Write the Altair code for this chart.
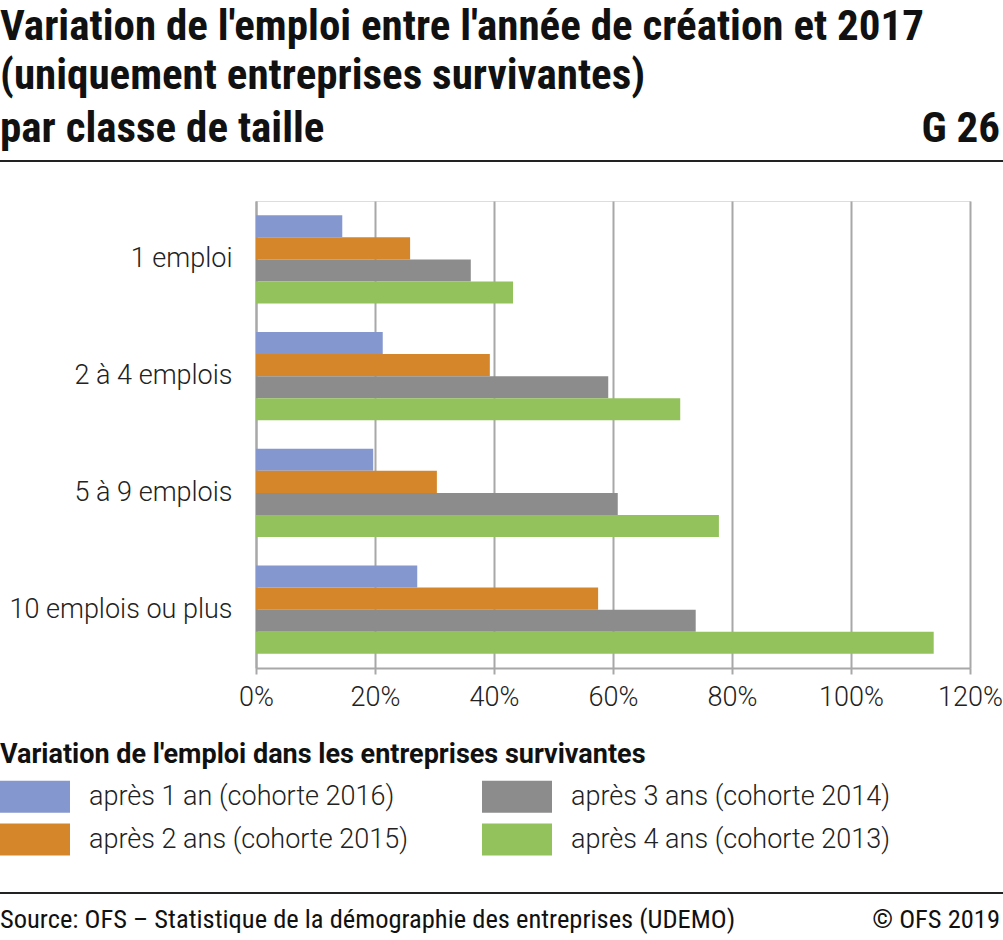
import altair as alt
import pandas as pd

categories = ["1 emploi", "2 à 4 emplois", "5 à 9 emplois", "10 emplois ou plus"]
series = ["après 1 an (cohorte 2016)", "après 2 ans (cohorte 2015)",
          "après 3 ans (cohorte 2014)", "après 4 ans (cohorte 2013)"]
v_1an = [14.5, 21.3, 19.7, 27.1]
v_2ans = [25.9, 39.3, 30.4, 57.5]
v_3ans = [36.1, 59.2, 60.8, 73.9]
v_4ans = [43.2, 71.3, 77.8, 113.9]
colors = ["#8497cf", "#d5862a", "#8c8c8c", "#93c25c"]
x_ticks = [0, 20, 40, 60, 80, 100, 120]

rows = []
for s, vals in zip(series, [v_1an, v_2ans, v_3ans, v_4ans]):
    for c, v in zip(categories, vals):
        rows.append({"cat": c, "serie": s, "val": v / 100})
df = pd.DataFrame(rows)

FONT = "Roboto"
TFONT = "Roboto Condensed, Liberation Sans Narrow, Roboto"
W, H = 714, 467
LS = 27

bars = alt.Chart(df).mark_bar(opacity=1).encode(
    x=alt.X("val:Q", scale=alt.Scale(domain=[0, 1.2], nice=False),
            axis=alt.Axis(values=[t / 100 for t in x_ticks], format=".0%", title=None,
                          grid=True, gridColor="#a8a8a8", gridWidth=2,
                          domainColor="#a8a8a8", domainWidth=2,
                          tickColor="#a8a8a8", tickWidth=2, tickSize=6,
                          labelFontSize=LS, labelColor="#222", labelFont=FONT,
                          labelFontWeight=300, labelPadding=10, labelFlush=False)),
    y=alt.Y("cat:N", sort=categories,
            scale=alt.Scale(paddingInner=0.246, paddingOuter=0.123),
            axis=alt.Axis(title=None, ticks=False, domainColor="#a8a8a8", domainWidth=2,
                          labelFontSize=LS, labelColor="#222", labelFont=FONT,
                          labelFontWeight=300, labelPadding=24, labelLimit=300)),
    yOffset=alt.YOffset("serie:N", sort=series),
    color=alt.Color("serie:N", scale=alt.Scale(domain=series, range=colors),
                    legend=alt.Legend(
                        title="Variation de l'emploi dans les entreprises survivantes",
                        orient="none", legendX=-256, legendY=541, columns=2,
                        titleFont=FONT, titleFontSize=LS, titleFontWeight="bold",
                        titleColor="#111", titlePadding=10, titleLimit=900,
                        labelFont=FONT, labelFontSize=LS, labelFontWeight=300,
                        labelColor="#222", labelOffset=54, labelLimit=500,
                        symbolType="M-1,-0.914L3,-0.914L3,0.914L-1,0.914Z",
                        symbolSize=1225, symbolStrokeWidth=0, symbolOpacity=1,
                        rowPadding=9, columnPadding=73)),
)

one = pd.DataFrame({"a": [0]})

def txt(text, x, y, size, weight="normal", align="left", font=TFONT):
    return alt.Chart(one).mark_text(text=text, fontSize=size, fontWeight=weight,
                                    align=align, baseline="middle", font=font,
                                    color="#111").encode(x=alt.value(x), y=alt.value(y))

def rule(y):
    return alt.Chart(one).mark_rule(color="#222", strokeWidth=2).encode(
        x=alt.value(-256), x2=alt.value(747), y=alt.value(y))

layers = [
    bars,
    txt("Variation de l'emploi entre l'année de création et 2017", -256, -174, 43, "bold"),
    txt("(uniquement entreprises survivantes)", -256, -125, 43, "bold"),
    txt("par classe de taille", -256, -72, 43, "bold"),
    txt("G 26", 744, -72, 43, "bold", "right"),
    rule(-40),
    rule(692),
    txt("Source: OFS – Statistique de la démographie des entreprises (UDEMO)", -256, 719, 26.5),
    txt("© OFS 2019", 744, 719, 26.5, "normal", "right"),
]

chart = alt.layer(*layers).properties(
    width=W, height=H,
    autosize=alt.AutoSizeParams(type="none"),
    padding={"left": 256, "top": 201, "right": 33, "bottom": 272},
).configure_view(fill="#f0f0f0", stroke="#c4c4c4", strokeWidth=2
).configure(background="white")

chart.save("out.html", embed_options={"renderer": "svg", "actions": False})
